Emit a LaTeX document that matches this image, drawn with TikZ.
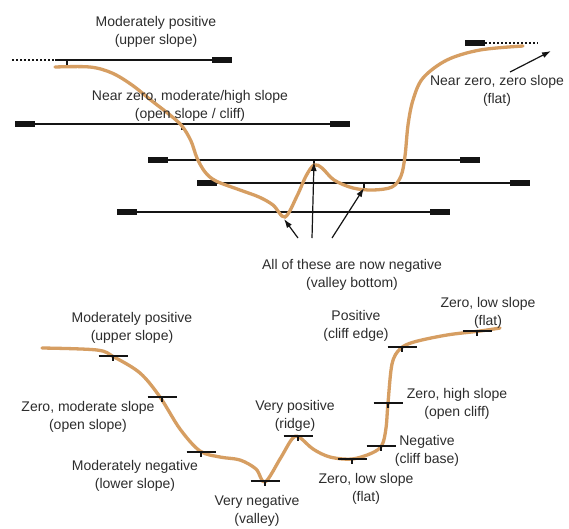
\documentclass[tikz,border=0pt]{standalone}
\usepackage{fontspec}
\setmainfont{Liberation Sans}
\usetikzlibrary{arrows.meta}
\definecolor{terrain}{RGB}{214,158,98}
\definecolor{ink}{RGB}{20,20,20}
\definecolor{txt}{RGB}{45,45,45}
\tikzset{
  lbl/.style={align=center,inner sep=0pt,text=txt,font=\fontsize{14}{17.5}\selectfont},
  profile/.style={draw=terrain,line width=3.3pt,line cap=round},
  bar/.style={draw=ink,line width=2.2pt},
  sbar/.style={draw=ink,line width=2.8pt},
  barend/.style={fill=ink},
  tickmark/.style={draw=ink,line width=2pt},
  dots/.style={draw=ink,line width=2.2pt,dash pattern=on 2pt off 2pt},
  pointer/.style={draw=ink,line width=1.2pt,-{Latex[length=9pt,width=6pt]}},
}
\begin{document}
\begin{tikzpicture}[x=1pt,y=-1pt]
\useasboundingbox (0,0) rectangle (569,528);
\fill[white] (0,0) rectangle (569,528);

% ---------- top panel: moving windows ----------
% window 1 (upper)
\coordinate (w1a) at (12,60); \coordinate (w1b) at (55,60); \coordinate (w1c) at (212,60);
\draw[dots] (w1a) -- (w1b);
\draw[bar] (w1b) -- (w1c);
\fill[barend] (212,57) rectangle (232,63);
\coordinate (t1) at (67,60); \coordinate (t1e) at (67,68);
\draw[tickmark] (t1) -- (t1e);

% window 2
\coordinate (w2a) at (35,124); \coordinate (w2b) at (330,124);
\fill[barend] (15,121) rectangle (35,127);
\draw[bar] (w2a) -- (w2b);
\fill[barend] (330,121) rectangle (350,127);
\coordinate (t2) at (182,124); \coordinate (t2e) at (182,130);
\draw[tickmark] (t2) -- (t2e);

% window 3
\coordinate (w3a) at (168,160); \coordinate (w3b) at (460,160);
\fill[barend] (148,157) rectangle (168,163);
\draw[bar] (w3a) -- (w3b);
\fill[barend] (460,157) rectangle (480,163);
\coordinate (t3) at (314,160); \coordinate (t3e) at (314,167);
\draw[tickmark] (t3) -- (t3e);

% window 4
\coordinate (w4a) at (217,183); \coordinate (w4b) at (510,183);
\fill[barend] (197,180) rectangle (217,186);
\draw[bar] (w4a) -- (w4b);
\fill[barend] (510,180) rectangle (530,186);
\coordinate (t4) at (364,183); \coordinate (t4e) at (364,190);
\draw[tickmark] (t4) -- (t4e);

% window 5
\coordinate (w5a) at (137,212); \coordinate (w5b) at (430,212);
\fill[barend] (117,209) rectangle (137,215);
\draw[bar] (w5a) -- (w5b);
\fill[barend] (430,209) rectangle (450,215);

% window at top right
\fill[barend] (465,40) rectangle (485,46);
\coordinate (w6a) at (485,43); \coordinate (w6b) at (538,43);
\draw[dots] (w6a) -- (w6b);

% top profile
\draw[profile] plot[smooth,tension=0.55] coordinates {
 (55,67) (90,67) (112,73) (132,85) (152,101) (170,115) (182,126) (191,141)
 (197,158) (205,172) (216,181) (240,190) (259,197) (273,205) (285,217)
 (297,196) (306,176) (314,165) (322,168) (334,180) (353,188) (373,190)
 (392,187) (401,176) (405,156) (408,125) (413,100) (423,78) (447,60)
 (480,50) (523,46)};

% top labels
\node[lbl] (mp1) at (156,32) {Moderately positive\\(upper slope)};
\node[lbl] (nz1) at (190,106) {Near zero, moderate/high slope\\(open slope / cliff)};
\node[lbl] (nz2) at (497,91) {Near zero, zero slope\\(flat)};
\node[lbl] (all) at (352,275) {All of these are now negative\\(valley bottom)};

\coordinate (a0) at (510,72); \coordinate (a0h) at (551,51);
\draw[pointer] (a0) -- (a0h);
\coordinate (a1) at (298,238); \coordinate (a1h) at (284,219);
\coordinate (a2) at (312,238); \coordinate (a2h) at (314,162);
\coordinate (a3) at (332,238); \coordinate (a3h) at (364,188);
\draw[pointer] (a1) -- (a1h);
\draw[pointer] (a2) -- (a2h);
\draw[pointer] (a3) -- (a3h);

% ---------- bottom panel ----------
\draw[profile] plot[smooth,tension=0.55] coordinates {
 (42,348) (97,350) (114,357) (140,373) (160,397) (180,429) (200,451)
 (220,457) (240,460) (256,469) (265,482) (280,459) (292,439) (299,437)
 (313,449) (330,457) (352,459) (372,453) (382,445) (386,428) (388,403)
 (392,364) (400,349) (414,342) (447,335) (480,331) (500,328)};

\foreach \n/\cx/\cy in {b1/113/356, b2/162/397, b3/201/452, b4/265/481, b5/298/436,
                        b6/352/459, b7/381/446, b8/388/403, b9/402/347, b10/477/331}{
  \coordinate (\n l) at (\cx-14.5,\cy);
  \coordinate (\n r) at (\cx+14.5,\cy);
  \coordinate (\n c) at (\cx,\cy);
  \coordinate (\n d) at (\cx,\cy+5);
  \draw[sbar] (\n l) -- (\n r);
  \draw[tickmark] (\n c) -- (\n d);
}

\node[lbl] (L1) at (132,328) {Moderately positive\\(upper slope)};
\node[lbl] (L2) at (88,417) {Zero, moderate slope\\(open slope)};
\node[lbl] (L3) at (135,476) {Moderately negative\\(lower slope)};
\node[lbl] (L4) at (257,511) {Very negative\\(valley)};
\node[lbl] (L5) at (295,416) {Very positive\\(ridge)};
\node[lbl] (L6) at (366,489) {Zero, low slope\\(flat)};
\node[lbl] (L7) at (427,451) {Negative\\(cliff base)};
\node[lbl] (L8) at (457,404) {Zero, high slope\\(open cliff)};
\node[lbl] (L9) at (356,326) {Positive\\(cliff edge)};
\node[lbl] (L10) at (488,313) {Zero, low slope\\(flat)};
\end{tikzpicture}
\end{document}
